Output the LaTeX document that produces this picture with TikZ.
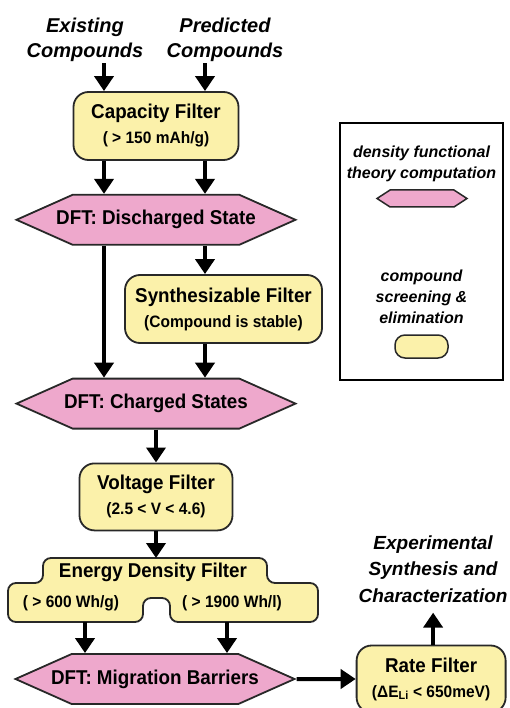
\documentclass[tikz,border=0pt]{standalone}
\usepackage{fontspec}
\setmainfont{Liberation Sans}
\newfontfamily\condsf{Liberation Sans}[FakeStretch=0.94]
\definecolor{boxyellow}{RGB}{251,241,170}
\definecolor{hexpink}{RGB}{238,168,204}
\definecolor{edgegray}{RGB}{40,40,40}
\usetikzlibrary{positioning, arrows.meta, shapes.symbols}
\newcommand{\subline}[1]{{\fontsize{16.5}{20}\selectfont #1}}
\newcommand{\hexlabel}[1]{\makebox[0pt]{#1}}

\begin{document}
\begin{tikzpicture}[
  x=1pt, y=-1pt,
  node distance=33pt,
  arrow/.style={-{Triangle[width=19pt,length=15pt]}, line width=4pt, black},
  filt/.style={draw=edgegray, line width=1.8pt, rounded corners=15pt, fill=boxyellow,
               minimum height=68pt, align=center, inner sep=0pt,
               font=\condsf\bfseries\fontsize{20}{25}\selectfont},
  dft/.style={signal, signal to=east and west, signal pointer angle=48,
              draw=edgegray, line width=1.8pt, fill=hexpink, minimum width=279pt,
              minimum height=50pt, inner sep=0pt,
              font=\condsf\bfseries\fontsize{20}{24}\selectfont},
  lbl/.style={font=\bfseries\itshape\fontsize{20}{25}\selectfont, align=center, inner sep=1pt},
  key/.style={font=\bfseries\itshape\fontsize{16}{21}\selectfont, align=center},
]
\useasboundingbox (0,0) rectangle (510,708);

% --- Inputs ---
\node[lbl] (exist) at (85,40)  {Existing\\Compounds};
\node[lbl] (pred)  at (225,40) {Predicted\\Compounds};
\coordinate (laneL) at (104,0);
\coordinate (laneR) at (205,0);

% --- Screening column ---
\node[filt, minimum width=165pt] (cap) at (156,126) {Capacity Filter\\\subline{( > 150 mAh/g)}};
\node[dft, below=33pt of cap] (dis) {\hexlabel{DFT: Discharged State}};
\node[filt, minimum width=197pt] (synth) at (223.5,309) {Synthesizable Filter\\\subline{(Compound is stable)}};
\node[dft, below=132pt of dis] (chg) {\hexlabel{DFT: Charged States}};
\node[filt, minimum width=153pt, minimum height=67pt, below=33pt of chg] (volt) {Voltage Filter\\\subline{(2.5 < V < 4.6)}};

% --- Energy density filter (split outline) ---
\draw[draw=edgegray, line width=1.8pt, fill=boxyellow, rounded corners=8pt]
  (43,558) -- (267,558) -- (267,583) -- (318,583) -- (318,622) -- (170,622)
  -- (170,598) -- (143,598) -- (143,622) -- (8,622) -- (8,583) -- (43,583) -- cycle;
\node[font=\condsf\bfseries\fontsize{20}{24}\selectfont] (energy) at (153,572) {Energy Density Filter};
\node[font=\condsf\bfseries\fontsize{16.5}{20}\selectfont] (ewg) at (71,603) {( > 600 Wh/g)};
\node[font=\condsf\bfseries\fontsize{16.5}{20}\selectfont] (ewl) at (232,603) {( > 1900 Wh/l)};
\coordinate (etop) at (156,558);
\coordinate (eL) at (85,622);
\coordinate (eR) at (227,622);

\node[dft] (mig) at (155,679) {\hexlabel{DFT: Migration Barriers}};
\node[filt, minimum width=149pt, minimum height=67pt, right=59pt of mig] (rate) {Rate Filter\\\subline{(ΔE\textsubscript{Li} < 650meV)}};
\node[lbl, font=\bfseries\itshape\fontsize{19}{26.5}\selectfont, above=41pt of rate, xshift=2pt] (exp) {Experimental\\Synthesis and\\Characterization};

% --- Arrows ---
\draw[arrow] (laneL |- exist.south) -- (laneL |- cap.north);
\draw[arrow] (laneR |- pred.south)  -- (laneR |- cap.north);
\draw[arrow] (laneL |- cap.south) -- (laneL |- dis.north);
\draw[arrow] (laneR |- cap.south) -- (laneR |- dis.north);
\draw[arrow] (laneL |- dis.south) -- (laneL |- chg.north);
\draw[arrow] (laneR |- dis.south) -- (laneR |- synth.north);
\draw[arrow] (laneR |- synth.south) -- (laneR |- chg.north);
\draw[arrow] (chg) -- (volt);
\draw[arrow] (volt) -- (etop);
\draw[arrow] (eL) -- (eL |- mig.north);
\draw[arrow] (eR) -- (eR |- mig.north);
\draw[arrow] (mig) -- (rate);
\draw[arrow] (rate.north -| exp) -- ([yshift=-9pt]exp.south);

% --- Legend ---
\node[draw=black, line width=1.5pt, minimum width=163pt, minimum height=257pt] (legend) at (421.5,251.5) {};
\node[key] (keydft) at (421.5,164) {density functional\\theory computation};
\node[dft, minimum width=90pt, minimum height=17pt, signal pointer angle=66, line width=1.5pt] (keyhex) at (422,198.5) {};
\node[key] (keyfilt) at (421.5,297) {compound\\screening \&\\elimination};
\node[filt, minimum width=53pt, minimum height=23pt, rounded corners=10pt, line width=1.5pt] (keybox) at (421.5,346.5) {};

\end{tikzpicture}
\end{document}
